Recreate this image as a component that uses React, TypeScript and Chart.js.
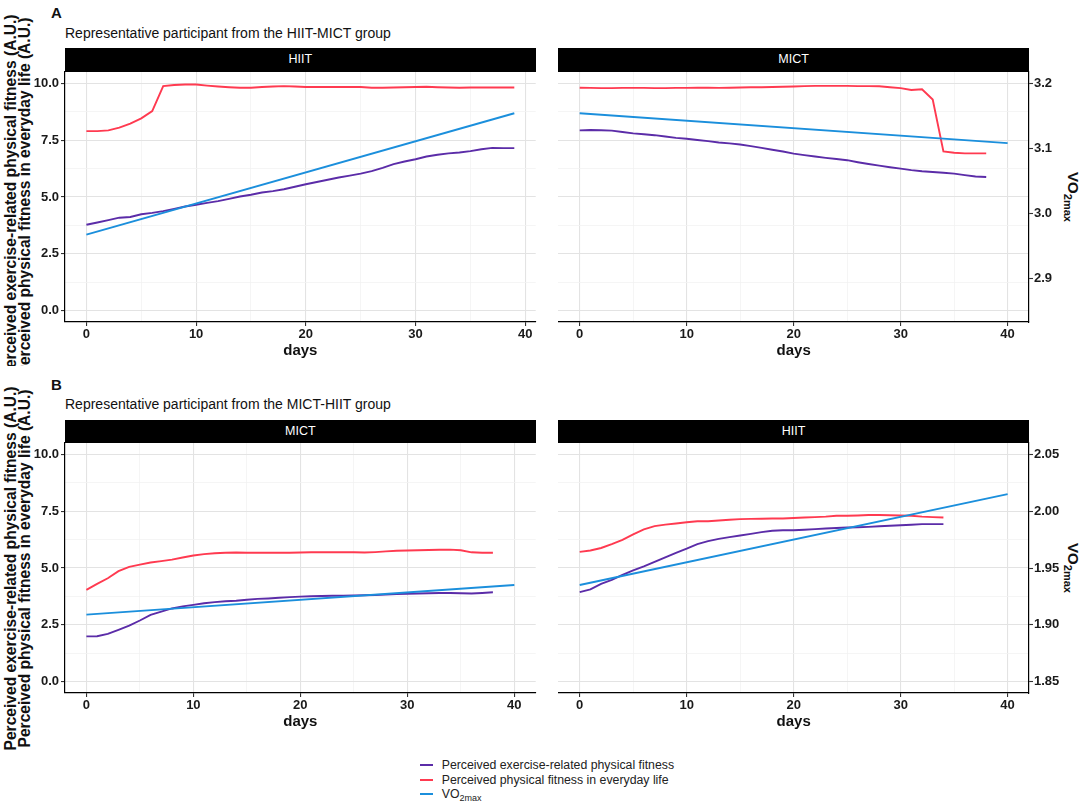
import { useEffect, useRef } from "react";
import { Chart, registerables } from "chart.js";

Chart.register(...registerables);

const purple = "#5b2ca8";
const red = "#ff3a50";
const blue = "#1b8fdc";

// HIIT-MICT participant, HIIT block (one value per day, day = index)
const hmHiitExercise = [
  3.78, 3.88, 3.98, 4.09, 4.12, 4.24, 4.3, 4.38, 4.48, 4.58, 4.66, 4.74, 4.82, 4.92, 5.02, 5.1, 5.2, 5.26, 5.34, 5.45,
  5.56, 5.66, 5.76, 5.86, 5.94, 6.03, 6.14, 6.28, 6.45, 6.56, 6.66, 6.78, 6.86, 6.92, 6.96, 7.02, 7.1, 7.16, 7.15, 7.15,
];
const hmHiitEveryday = [
  7.9, 7.9, 7.93, 8.05, 8.23, 8.46, 8.78, 9.88, 9.93, 9.95, 9.95, 9.9, 9.86, 9.83, 9.81, 9.81, 9.84, 9.86, 9.88, 9.86,
  9.84, 9.84, 9.84, 9.84, 9.84, 9.84, 9.81, 9.81, 9.82, 9.83, 9.84, 9.85, 9.83, 9.82, 9.81, 9.82, 9.82, 9.82, 9.82, 9.82,
];
const hmHiitVo2Days = [0, 39];
const hmHiitVo2 = [2.967, 3.154];

// HIIT-MICT participant, MICT block
const hmMictExercise = [
  7.93, 7.95, 7.94, 7.92, 7.86, 7.8, 7.76, 7.72, 7.66, 7.6, 7.56, 7.51, 7.46, 7.4, 7.36, 7.31, 7.24, 7.16, 7.08, 7.0,
  6.91, 6.84, 6.78, 6.72, 6.67, 6.62, 6.53, 6.45, 6.38, 6.31, 6.25, 6.18, 6.13, 6.1, 6.07, 6.03, 5.96, 5.9, 5.88,
];
const hmMictEveryday = [
  9.81, 9.8, 9.79, 9.79, 9.8, 9.8, 9.8, 9.79, 9.79, 9.8, 9.8, 9.81, 9.81, 9.8, 9.81, 9.82, 9.83, 9.83, 9.84, 9.85,
  9.86, 9.88, 9.89, 9.89, 9.89, 9.89, 9.88, 9.88, 9.87, 9.83, 9.79, 9.71, 9.74, 9.29, 7.01, 6.95, 6.92, 6.92, 6.92,
];
const hmMictVo2Days = [0, 40];
const hmMictVo2 = [3.154, 3.108];

// MICT-HIIT participant, MICT block
const mhMictExercise = [
  1.99, 2.0, 2.1, 2.28, 2.46, 2.69, 2.94, 3.08, 3.22, 3.31, 3.38, 3.45, 3.5, 3.54, 3.56, 3.6, 3.64, 3.66, 3.69, 3.72,
  3.74, 3.76, 3.77, 3.78, 3.78, 3.79, 3.8, 3.81, 3.83, 3.85, 3.87, 3.88, 3.89, 3.9, 3.9, 3.89, 3.88, 3.9, 3.93,
];
const mhMictEveryday = [
  4.04, 4.3, 4.55, 4.86, 5.05, 5.15, 5.24, 5.3, 5.37, 5.46, 5.55, 5.61, 5.65, 5.67, 5.68, 5.67, 5.67, 5.67, 5.67, 5.67,
  5.68, 5.69, 5.69, 5.69, 5.69, 5.69, 5.68, 5.7, 5.73, 5.76, 5.77, 5.78, 5.79, 5.8, 5.81, 5.78, 5.69, 5.67, 5.67,
];
const mhMictVo2Days = [0, 40];
const mhMictVo2 = [1.909, 1.935];

// MICT-HIIT participant, HIIT block
const mhHiitExercise = [
  3.94, 4.06, 4.3, 4.48, 4.7, 4.9, 5.07, 5.27, 5.47, 5.67, 5.85, 6.05, 6.18, 6.28, 6.36, 6.43, 6.5, 6.58, 6.64, 6.66,
  6.66, 6.68, 6.71, 6.74, 6.76, 6.78, 6.79, 6.81, 6.84, 6.86, 6.88, 6.9, 6.93, 6.93, 6.93,
];
const mhHiitEveryday = [
  5.71, 5.77, 5.88, 6.05, 6.24, 6.48, 6.7, 6.84, 6.91, 6.96, 7.01, 7.06, 7.06, 7.09, 7.12, 7.15, 7.16, 7.17, 7.18, 7.18,
  7.2, 7.22, 7.24, 7.26, 7.3, 7.3, 7.31, 7.33, 7.33, 7.32, 7.31, 7.3, 7.26, 7.24, 7.22,
];
const mhHiitVo2Days = [0, 40];
const mhHiitVo2 = [1.935, 2.015];

const scoreTicks = [0, 2.5, 5, 7.5, 10];
const scoreMinorTicks = [1.25, 3.75, 6.25, 8.75];
const dayTicks = [0, 10, 20, 30, 40];
const dayMinorTicks = [5, 15, 25, 35];
const vo2TicksA = [2.9, 3.0, 3.1, 3.2];
const vo2TicksB = [1.85, 1.9, 1.95, 2.0, 2.05];

const seriesLabels = [
  "Perceived exercise-related physical fitness",
  "Perceived physical fitness in everyday life",
];
const yTitleLines = [
  "Perceived exercise-related physical fitness (A.U.)",
  "Perceived physical fitness in everyday life (A.U.)",
];

const FONT = "'Liberation Sans', Arial, Helvetica, sans-serif";
const ROW_B = 371.7;
const PANEL_TOP = 71.7;
const PANEL_H = 250;
const PAD_TOP = 12;
const X_AXIS_H = 42;

interface PanelProps {
  side: "left" | "right";
  top: number;
  exercise: number[];
  everyday: number[];
  vo2Days: number[];
  vo2: number[];
  xMin: number;
  xMax: number;
  vo2Min: number;
  vo2Max: number;
  vo2Ticks: number[];
  vo2Decimals: number;
}

const tickFont = { family: FONT, size: 13, weight: "bold" as const };

function withMinor(major: number[], minor: number[]) {
  return [...major, ...minor].sort((a, b) => a - b).map(v => ({ value: v }));
}

function Panel(props: PanelProps) {
  const canvasRef = useRef<HTMLCanvasElement>(null);
  const chartRef = useRef<Chart | null>(null);
  const isLeft = props.side === "left";
  const width = isLeft ? 545 : 544;
  const height = PAD_TOP + PANEL_H + X_AXIS_H;

  useEffect(() => {
    if (!canvasRef.current) return;
    if (chartRef.current) chartRef.current.destroy();

    const gridColor = (major: number[]) => (c: any) =>
      major.includes(c.tick?.value) ? "#e3e3e3" : "#f2f2f2";
    const gridWidth = (major: number[]) => (c: any) =>
      major.includes(c.tick?.value) ? 1.1 : 0.8;
    const tickColor = (major: number[]) => (c: any) =>
      major.includes(c.tick?.value) ? "#333" : "rgba(0,0,0,0)";

    chartRef.current = new Chart(canvasRef.current, {
      type: "line",
      data: {
        datasets: [
          {
            label: "VO2max",
            data: props.vo2Days.map((d, i) => ({ x: d, y: props.vo2[i] })),
            borderColor: blue,
            yAxisID: "vo2",
          },
          {
            label: seriesLabels[0],
            data: props.exercise.map((v, d) => ({ x: d, y: v })),
            borderColor: purple,
            yAxisID: "y",
          },
          {
            label: seriesLabels[1],
            data: props.everyday.map((v, d) => ({ x: d, y: v })),
            borderColor: red,
            yAxisID: "y",
          },
        ],
      },
      options: {
        animation: false,
        responsive: true,
        maintainAspectRatio: false,
        events: [],
        elements: {
          point: { radius: 0 },
          line: { borderWidth: 1.9, tension: 0 },
        },
        layout: {
          padding: { top: PAD_TOP, bottom: 0, left: 0, right: isLeft ? 9.3 : 5 },
        },
        plugins: { legend: { display: false }, tooltip: { enabled: false } },
        scales: {
          x: {
            type: "linear",
            min: props.xMin,
            max: props.xMax,
            afterBuildTicks: (s: any) => {
              s.ticks = withMinor(dayTicks, dayMinorTicks);
            },
            afterFit: (s: any) => {
              s.height = X_AXIS_H;
            },
            grid: {
              color: gridColor(dayTicks),
              lineWidth: gridWidth(dayTicks),
              tickColor: tickColor(dayTicks),
              tickLength: 4,
              tickWidth: 1.1,
            },
            border: { display: true, color: "#000", width: 1.2 },
            ticks: {
              autoSkip: false,
              maxRotation: 0,
              padding: 1,
              color: "#1a1a1a",
              font: tickFont,
              callback: (v: any) => (dayTicks.includes(v) ? String(v) : ""),
            },
            title: {
              display: true,
              text: "days",
              color: "#111",
              font: { family: FONT, size: 15, weight: "bold" },
              padding: { top: 0, bottom: 4 },
            },
          },
          y: {
            type: "linear",
            position: "left",
            min: -0.5,
            max: 10.5,
            afterBuildTicks: (s: any) => {
              s.ticks = withMinor(scoreTicks, scoreMinorTicks);
            },
            afterFit: (s: any) => {
              s.width = isLeft ? 65 : 18.3;
            },
            grid: {
              color: gridColor(scoreTicks),
              lineWidth: gridWidth(scoreTicks),
              tickColor: tickColor(scoreTicks),
              drawTicks: isLeft,
              tickLength: 4,
              tickWidth: 1.1,
            },
            border: { display: isLeft, color: "#000", width: 1.2 },
            ticks: {
              display: isLeft,
              autoSkip: false,
              padding: 2,
              color: "#1a1a1a",
              font: tickFont,
              callback: (v: any) => (scoreTicks.includes(v) ? Number(v).toFixed(1) : ""),
            },
          },
          vo2: {
            type: "linear",
            position: "right",
            display: !isLeft,
            min: props.vo2Min,
            max: props.vo2Max,
            afterBuildTicks: (s: any) => {
              s.ticks = props.vo2Ticks.map(v => ({ value: v }));
            },
            afterFit: (s: any) => {
              if (!isLeft) s.width = 50;
            },
            grid: {
              drawOnChartArea: false,
              drawTicks: true,
              tickLength: 4,
              tickWidth: 1.1,
              tickColor: "#333",
            },
            border: { display: true, color: "#000", width: 1.2 },
            ticks: {
              autoSkip: false,
              padding: 1,
              color: "#1a1a1a",
              font: tickFont,
              callback: (v: any) => Number(v).toFixed(props.vo2Decimals),
            },
          },
        },
      },
    } as any);

    return () => {
      if (chartRef.current) {
        chartRef.current.destroy();
        chartRef.current = null;
      }
    };
  }, [props]);

  return (
    <div
      style={{
        position: "absolute",
        left: isLeft ? 0 : 540,
        top: props.top + PANEL_TOP - PAD_TOP,
        width,
        height,
      }}
    >
      <canvas ref={canvasRef} />
    </div>
  );
}

function Strip({ left, top, text }: { left: number; top: number; text: string }) {
  return (
    <div
      style={{
        position: "absolute",
        left,
        top,
        width: 470.7,
        height: 23.4,
        background: "#000",
        color: "#fff",
        fontSize: 12.5,
        lineHeight: "23.4px",
        textAlign: "center",
      }}
    >
      {text}
    </div>
  );
}

function Row({ top, letter, title, leftStrip, rightStrip, height, children }: any) {
  return (
    <div style={{ position: "absolute", left: 0, top, width: 1084, height, overflow: "hidden" }}>
      <div style={{ position: "absolute", left: 51, top: 5, fontSize: 15, fontWeight: "bold", lineHeight: "15px" }}>
        {letter}
      </div>
      <div style={{ position: "absolute", left: 65, top: 25.5, fontSize: 14, lineHeight: "15px", whiteSpace: "nowrap" }}>
        {title}
      </div>
      <Strip left={65} top={48.3} text={leftStrip} />
      <Strip left={558.3} top={48.3} text={rightStrip} />
      <div
        style={{
          position: "absolute",
          left: 16.5 - 210,
          top: PANEL_TOP + PANEL_H / 2 - 13.5,
          width: 420,
          height: 27,
          transform: "rotate(-90deg)",
          textAlign: "center",
          fontSize: 15.6,
          fontWeight: "bold",
          lineHeight: "13.5px",
          whiteSpace: "nowrap",
          color: "#111",
        }}
      >
        {yTitleLines[0]}
        <br />
        {yTitleLines[1]}
      </div>
      <div
        style={{
          position: "absolute",
          left: 1073 - 40,
          top: PANEL_TOP + PANEL_H / 2 - 10,
          width: 80,
          height: 20,
          transform: "rotate(90deg)",
          textAlign: "center",
          fontSize: 15,
          fontWeight: "bold",
          lineHeight: "20px",
          color: "#111",
        }}
      >
        VO<sub style={{ fontSize: 11 }}>2max</sub>
      </div>
      {children}
    </div>
  );
}

const legendItems = [
  { color: purple, label: seriesLabels[0] },
  { color: red, label: seriesLabels[1] },
  { color: blue, label: "VO2max" },
];

export default function App() {
  return (
    <div
      style={{
        position: "absolute",
        left: 0,
        top: 0,
        width: 1084,
        height: 805,
        background: "#fff",
        fontFamily: FONT,
        color: "#111",
        overflow: "hidden",
      }}
    >
      <Row top={0} height={366} letter="A" title="Representative participant from the HIIT-MICT group" leftStrip="HIIT" rightStrip="MICT">
        <Panel
          side="left"
          top={0}
          exercise={hmHiitExercise}
          everyday={hmHiitEveryday}
          vo2Days={hmHiitVo2Days}
          vo2={hmHiitVo2}
          xMin={-1.95}
          xMax={40.95}
          vo2Min={2.8325}
          vo2Max={3.2175}
          vo2Ticks={vo2TicksA}
          vo2Decimals={1}
        />
        <Panel
          side="right"
          top={0}
          exercise={hmMictExercise}
          everyday={hmMictEveryday}
          vo2Days={hmMictVo2Days}
          vo2={hmMictVo2}
          xMin={-2}
          xMax={42}
          vo2Min={2.8325}
          vo2Max={3.2175}
          vo2Ticks={vo2TicksA}
          vo2Decimals={1}
        />
      </Row>
      <Row top={ROW_B} height={805 - ROW_B} letter="B" title="Representative participant from the MICT-HIIT group" leftStrip="MICT" rightStrip="HIIT">
        <Panel
          side="left"
          top={0}
          exercise={mhMictExercise}
          everyday={mhMictEveryday}
          vo2Days={mhMictVo2Days}
          vo2={mhMictVo2}
          xMin={-2}
          xMax={42}
          vo2Min={1.84}
          vo2Max={2.06}
          vo2Ticks={vo2TicksB}
          vo2Decimals={2}
        />
        <Panel
          side="right"
          top={0}
          exercise={mhHiitExercise}
          everyday={mhHiitEveryday}
          vo2Days={mhHiitVo2Days}
          vo2={mhHiitVo2}
          xMin={-2}
          xMax={42}
          vo2Min={1.84}
          vo2Max={2.06}
          vo2Ticks={vo2TicksB}
          vo2Decimals={2}
        />
      </Row>
      {legendItems.map((item, i) => (
        <div
          key={item.label}
          style={{ position: "absolute", left: 420, top: 765 + i * 14.6 - 8, height: 16, display: "flex", alignItems: "center" }}
        >
          <div style={{ width: 13, height: 2, background: item.color }} />
          <div style={{ marginLeft: 8.7, fontSize: 12.3, color: "#222", lineHeight: "16px", whiteSpace: "nowrap" }}>
            {item.label === "VO2max" ? (
              <>
                VO<sub style={{ fontSize: 9, lineHeight: 0 }}>2max</sub>
              </>
            ) : (
              item.label
            )}
          </div>
        </div>
      ))}
    </div>
  );
}
